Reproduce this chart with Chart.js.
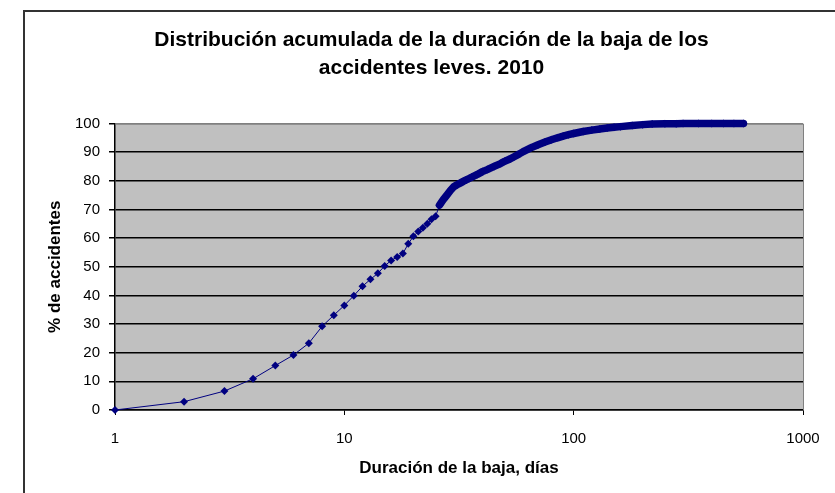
<!DOCTYPE html>
<html>
<head>
<meta charset="utf-8">
<script src="https://cdn.jsdelivr.net/npm/chart.js@4/dist/chart.umd.min.js"></script>
<style>
  html, body { margin: 0; padding: 0; background: #fff; overflow: hidden; width: 835px; height: 493px; }
  #frame { position: absolute; left: 23px; top: 10px; width: 900px; height: 600px; border: 2px solid #333; box-sizing: border-box; }
  canvas { position: absolute; left: 0; top: 0; }
</style>
</head>
<body>
<div id="frame"></div>
<canvas id="c" width="835" height="493"></canvas>
<script>
// Duration of leave (days) and cumulative % of accidents
const days = [1,2,3,4,5,6,7,8,9,10,11,12,13,14,15,16,17,18,19,20,21,22,23,24,25,26,27,28,29,30,
  31,32,33,34,35,36,38,40,42,45,48,50,53,55,58,60,65,70,75,80,85,90,95,100,110,120,130,140,150,160,180,200,220,250,280,300,350,400,450,500,550];
const cumulativePct = [0,2.9,6.6,10.9,15.5,19.2,23.3,29.2,33.1,36.5,39.9,43.2,45.6,47.7,50.3,52.2,53.4,54.6,58.0,60.6,62.3,63.6,65.0,66.6,67.6,71.5,73.4,75.0,76.6,77.9,
  78.6,79.2,79.8,80.3,80.8,81.3,82.2,83.2,83.9,85.0,86.0,86.8,87.7,88.4,89.4,90.1,91.5,92.6,93.5,94.3,95.0,95.6,96.1,96.5,97.2,97.7,98.1,98.4,98.7,98.9,99.3,99.6,99.8,99.9,99.95,100,100,100,100,100,100];
const xTicks = [1, 10, 100, 1000];
const yTicks = [0,10,20,30,40,50,60,70,80,90,100];
const titleLines = ['Distribución acumulada de la duración de la baja de los', 'accidentes leves. 2010'];
const xTitle = 'Duración de la baja, días';
const yTitle = '% de accidentes';
// from this duration on, daily markers overlap into a continuous band
const denseFrom = 26;

const points = days.map((d, i) => ({ x: d, y: cumulativePct[i] }));
const FONT = "'Liberation Sans', Arial, sans-serif";

const plotBg = {
  id: 'plotBg',
  beforeDraw(chart) {
    const { ctx, chartArea: a } = chart;
    ctx.save();
    ctx.fillStyle = '#C0C0C0';
    ctx.fillRect(a.left, a.top, a.right - a.left, a.bottom - a.top);
    ctx.restore();
  },
  beforeDatasetsDraw(chart) {
    const { ctx, chartArea: a } = chart;
    ctx.save();
    ctx.strokeStyle = '#808080';
    ctx.lineWidth = 1;
    ctx.beginPath();
    ctx.moveTo(a.left, a.top + 0.5);
    ctx.lineTo(a.right + 0.5, a.top + 0.5);
    ctx.lineTo(a.right + 0.5, a.bottom);
    ctx.stroke();
    ctx.restore();
  }
};

new Chart(document.getElementById('c'), {
  type: 'scatter',
  data: {
    datasets: [{
      data: points,
      showLine: true,
      borderColor: '#000080',
      borderWidth: 1,
      borderCapStyle: 'round',
      borderJoinStyle: 'round',
      segment: {
        borderWidth: (ctx) => (ctx.p0.parsed.x >= denseFrom ? 7.5 : 1)
      },
      pointStyle: 'rectRot',
      pointRadius: 4,
      pointHoverRadius: 4,
      pointBackgroundColor: '#000080',
      pointBorderColor: '#000080',
      pointBorderWidth: 0,
      clip: false
    }]
  },
  options: {
    responsive: false,
    devicePixelRatio: 1,
    animation: false,
    layout: { padding: { left: 60, right: 32, top: 0, bottom: 0 } },
    plugins: {
      legend: { display: false },
      tooltip: { enabled: false },
      title: {
        display: true,
        text: titleLines,
        color: '#000',
        font: { family: FONT, size: 21, weight: 'bold', lineHeight: 1.333 },
        padding: { top: 26, bottom: 41.5 }
      }
    },
    scales: {
      x: {
        type: 'logarithmic',
        min: 1,
        max: 1000,
        afterBuildTicks(scale) { scale.ticks = xTicks.map(v => ({ value: v })); },
        afterFit(scale) { scale.height = 83; },
        ticks: {
          color: '#000',
          font: { family: FONT, size: 15 },
          padding: 15,
          maxRotation: 0,
          autoSkip: false,
          callback: (v) => String(v)
        },
        grid: { display: true, drawOnChartArea: false, drawTicks: true, tickLength: 5, color: '#000', lineWidth: 1 },
        border: { display: true, color: '#000', width: 1.5 },
        title: {
          display: true,
          text: xTitle,
          color: '#000',
          font: { family: FONT, size: 17, weight: 'bold', lineHeight: 1.2 },
          padding: { top: 0, bottom: 14.8 }
        }
      },
      y: {
        min: 0,
        max: 100,
        afterBuildTicks(scale) { scale.ticks = yTicks.map(v => ({ value: v })); },
        afterFit(scale) { scale.width = 55; },
        ticks: {
          color: '#000',
          font: { family: FONT, size: 15 },
          padding: 9
        },
        grid: {
          drawOnChartArea: true,
          drawTicks: true,
          tickLength: 6,
          lineWidth: 1.5,
          color: (ctx) => (ctx.tick && ctx.tick.value === 100) ? '#808080' : '#000',
          tickColor: '#000'
        },
        border: { display: true, color: '#000', width: 1.5 },
        title: {
          display: true,
          text: yTitle,
          color: '#000',
          font: { family: FONT, size: 17, weight: 'bold', lineHeight: 1.2 },
          padding: { top: -15.2, bottom: 0 }
        }
      }
    }
  },
  plugins: [plotBg]
});
</script>
</body>
</html>
